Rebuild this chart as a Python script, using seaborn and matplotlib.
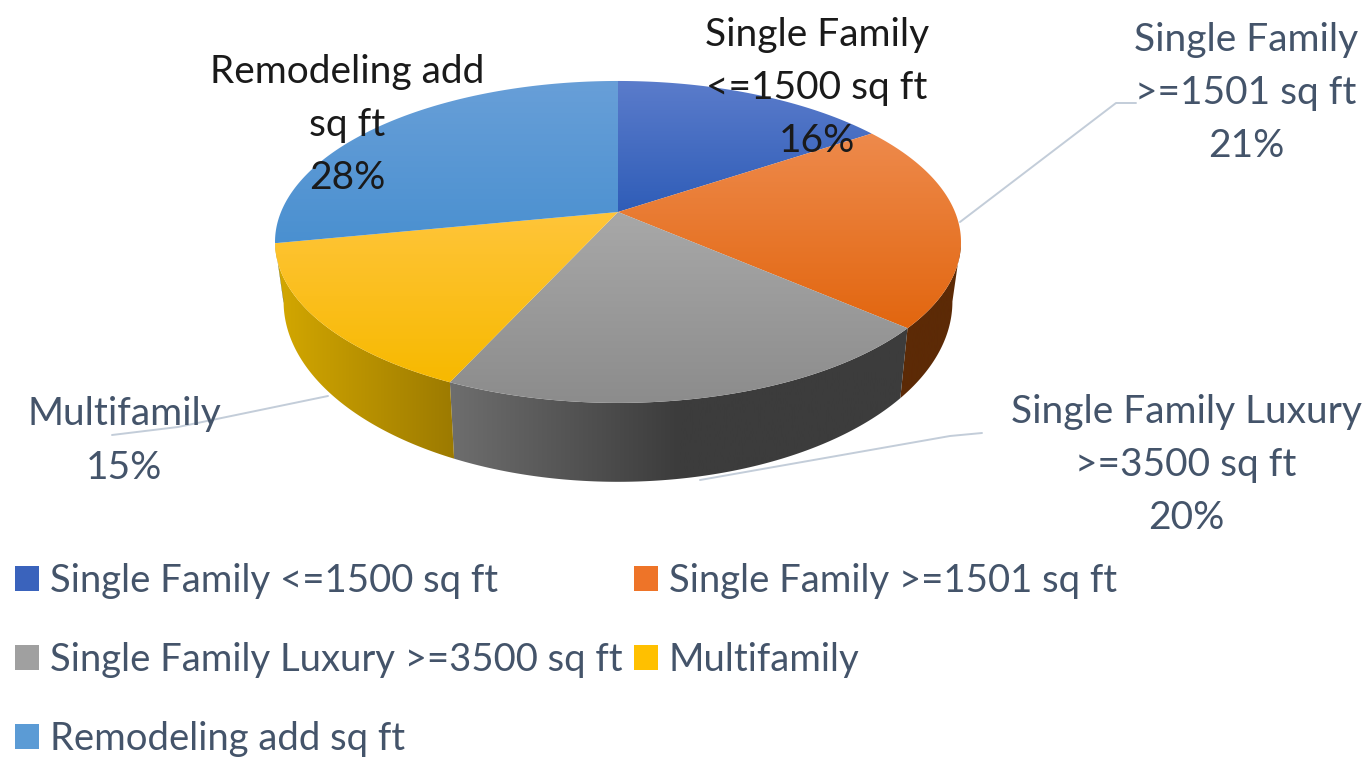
# 3D style pie of building segments, seaborn theme + matplotlib patches

import numpy as np
import matplotlib
matplotlib.use('Agg')
import matplotlib.pyplot as plt
import seaborn as sns
from matplotlib.patches import Polygon, Patch
from matplotlib.colors import LinearSegmentedColormap

segments = ['Single Family <=1500 sq ft', 'Single Family >=1501 sq ft',
            'Single Family Luxury >=3500 sq ft', 'Multifamily', 'Remodeling add sq ft']
shares = [15.6, 20.8, 20.4, 15.1, 28.1]
point_names = ['Single Family\n<=1500 sq ft', 'Single Family\n>=1501 sq ft',
               'Single Family Luxury\n>=3500 sq ft', 'Multifamily', 'Remodeling add\nsq ft']
top_light = ['#5B7CCB', '#EE8A4C', '#A8A8A8', '#FFC53A', '#689FD8']
top_dark = ['#2F5DB8', '#E2660F', '#8C8C8C', '#F7B900', '#4A90D0']
side_colors = [['#2F5597', '#1F3864'], ['#5C2A06', '#5C2A06'],
               ['#6E6E6E', '#3C3C3C', '#3C3C3C'], ['#D4A800', '#9C7A00'], ['#3A78B0', '#2A5A88']]
legend_colors = ['#3A63BC', '#EE7428', '#A0A0A0', '#FFC000', '#5B9BD5']

SLATE = '#44546A'

sns.set_theme(style='white')
plt.rcParams['font.family'] = ['Lato', 'DejaVu Sans']

fig = plt.figure(figsize=(13.68, 7.58), dpi=100)
ax = fig.add_axes([0, 0, 1, 1])
ax.set_xlim(0, 1368)
ax.set_ylim(758, 0)
ax.axis('off')

# perspective of the pie disc, fitted on the picture
CX, CY = 618, 212
A, C, K = 155.4, 337, 0.186


def project(theta):
    x_c, y_c = np.sin(theta), np.cos(theta)
    den = 1 + K * y_c
    return CX + C * x_c / den, CY - A * y_c / den


def project_bottom(theta):
    # lower rim sits a bit narrower and rounder than the top disc
    x_c, y_c = np.sin(theta), np.cos(theta)
    den = 1 + K * y_c
    return CX + 0.975 * C * x_c / den, 268 - 1.12 * A * y_c / den


def gradient(poly, colors, horizontal, extent):
    cmap = LinearSegmentedColormap.from_list('g', colors)
    g = np.linspace(0, 1, 256)
    g = g.reshape(1, -1) if horizontal else g.reshape(-1, 1)
    im = ax.imshow(g, cmap=cmap, extent=extent, aspect='auto', zorder=poly.get_zorder())
    ax.add_patch(poly)
    poly.set_visible(False)
    im.set_clip_path(poly)


edges = np.cumsum([0] + shares) / sum(shares) * 2 * np.pi
rim_start = np.arccos(-K)
rim_end = 2 * np.pi - rim_start

# side walls, only the front part of the rim is visible
for i in range(len(shares)):
    lo_v, hi_v = max(edges[i], rim_start), min(edges[i + 1], rim_end)
    if lo_v >= hi_v:
        continue
    t = np.linspace(lo_v, hi_v, 120)
    x0, y0 = project(t)
    x1, y1 = project_bottom(t[::-1])
    pts = np.column_stack([np.r_[x0, x1], np.r_[y0, y1]])
    poly = Polygon(pts, closed=True, lw=0, zorder=1)
    gradient(poly, side_colors[i], True, (min(x0.min(), x1.min()), max(x0.max(), x1.max()), 758, 0))

# top faces
for i in range(len(shares)):
    t = np.linspace(edges[i], edges[i + 1], 200)
    x0, y0 = project(t)
    pts = np.column_stack([np.r_[CX, x0], np.r_[CY, y0]])
    poly = Polygon(pts, closed=True, lw=0, zorder=2)
    gradient(poly, [top_light[i], top_dark[i]], False,
             (x0.min() - 400, x0.max() + 400, pts[:, 1].max(), pts[:, 1].min()))

ax.set_xlim(0, 1368)
ax.set_ylim(758, 0)

# leader lines
LEADER = '#C3CDD9'
ax.plot([960, 1116, 1136], [222, 103, 103], color=LEADER, lw=1.4, zorder=3)
ax.plot([700, 950, 982], [480, 436, 433], color=LEADER, lw=1.4, zorder=3)
ax.plot([328, 178, 112], [396, 427, 435], color=LEADER, lw=1.4, zorder=3)

# data labels
label_pos = [(817, 88, '#1A1A1A'), (1246, 93, SLATE), (1186, 465, SLATE),
             (124, 441, SLATE), (347, 125, '#1A1A1A')]
for name, s, (x, y, col) in zip(point_names, shares, label_pos):
    ax.text(x, y, f'{name}\n{round(s)}%', ha='center', va='center', fontsize=28, color=col,
            linespacing=1.6, zorder=4)

# legend filled row by row like the office chart legend
handles = [Patch(facecolor=c, edgecolor='none') for c in legend_colors]
order = [0, 2, 4, 1, 3]
leg = fig.legend([handles[i] for i in order], [segments[i] for i in order], ncol=2,
                 loc='upper left', bbox_to_anchor=(0.011, 0.2575),
                 frameon=False, fontsize=27.5, labelcolor=SLATE, handlelength=0.63,
                 handleheight=0.63, handletextpad=0.29, columnspacing=0.28, labelspacing=1.13,
                 borderpad=0, borderaxespad=0)

fig.savefig('out.png', dpi=100, facecolor='white')
